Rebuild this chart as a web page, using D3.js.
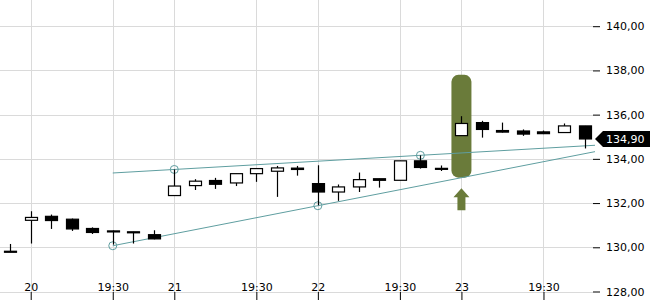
<!DOCTYPE html>
<html>
<head>
<meta charset="utf-8">
<script src="https://cdn.jsdelivr.net/npm/d3@7"></script>
<style>
  body { margin: 0; background: #fff; }
  svg { display: block; font-family: "DejaVu Sans", sans-serif; font-size: 11px; }
</style>
</head>
<body>
<svg class="chart" width="650" height="300"></svg>
<script>
// candle times (day + hour)
var times = ['19 21:30',
    '20 15:30', '20 16:30', '20 17:30', '20 18:30', '20 19:30', '20 20:30', '20 21:30',
    '21 15:30', '21 16:30', '21 17:30', '21 18:30', '21 19:30', '21 20:30', '21 21:30',
    '22 15:30', '22 16:30', '22 17:30', '22 18:30', '22 19:30', '22 20:30', '22 21:30',
    '23 15:30', '23 16:30', '23 17:30', '23 18:30', '23 19:30', '23 20:30', '23 21:30'];
var opens  = [129.82, 131.22, 131.40, 131.27, 130.85, 130.74, 130.70, 130.57,
    132.34, 132.79, 133.02, 132.91, 133.33, 133.44, 133.58,
    132.88, 132.50, 132.73, 133.10, 133.03, 133.91, 133.57,
    135.05, 135.64, 135.28, 135.26, 135.22, 135.19, 135.49];
var highs  = [130.15, 131.63, 131.48, 131.30, 130.90, 130.76, 130.70, 130.77,
    133.52, 133.08, 133.14, 133.33, 133.58, 133.68, 133.68,
    133.71, 132.84, 133.38, 133.10, 133.91, 134.16, 133.70,
    135.93, 135.72, 135.64, 135.33, 135.28, 135.60, 135.49];
var lows   = [129.78, 130.17, 130.83, 130.74, 130.60, 130.12, 130.17, 130.36,
    132.34, 132.59, 132.64, 132.77, 132.96, 132.28, 133.24,
    131.90, 132.10, 132.50, 132.70, 133.03, 133.56, 133.45,
    135.05, 134.96, 135.19, 135.04, 135.12, 135.19, 134.47];
var closes = [129.78, 131.35, 131.21, 130.83, 130.67, 130.70, 130.68, 130.38,
    132.77, 132.99, 132.85, 133.33, 133.56, 133.59, 133.52,
    132.50, 132.73, 133.06, 133.03, 133.91, 133.61, 133.55,
    135.60, 135.33, 135.21, 135.12, 135.14, 135.49, 134.90];

var tickTimes  = ['20 15:30', '20 19:30', '21 15:30', '21 19:30', '22 15:30', '22 19:30', '23 15:30', '23 19:30'];
var tickLabels = ['20', '19:30', '21', '19:30', '22', '19:30', '23', '19:30'];
var priceTicks = [128, 130, 132, 134, 136, 138, 140];

// trend lines: two anchor points each, start time
var upperTrend = [{t: '21 15:30', v: 133.52}, {t: '22 20:30', v: 134.16}];
var lowerTrend = [{t: '20 19:30', v: 130.07}, {t: '22 15:30', v: 131.88}];
var trendStart = '20 19:30';

// highlighted candle and signal arrow
var signalTime = '23 15:30';
var signalRange = [133.15, 137.8];
var arrowRange = [131.67, 132.67];

var lastPrice = 134.90;

(function show() {
    'use strict';

    var plotRight = 593, plotBottom = 292;
    var grid = '#dadada', teal = '#5f9ea0', olive = '#6a7b3a';
    var fmt = function(d) { return d.toFixed(2).replace('.', ','); };

    var chart = d3.select('.chart');

    var x = d3.scalePoint().domain(times).range([10.2, 584.5]);
    var y = d3.scaleLinear().domain([128, 140]).range([291.5, 26.2]);

    // grid
    chart.append('g').selectAll('line').data(priceTicks)
        .enter().append('line')
        .attr('x1', 0).attr('x2', plotRight)
        .attr('y1', function(d) { return Math.round(y(d)) + 0.5; })
        .attr('y2', function(d) { return Math.round(y(d)) + 0.5; })
        .attr('stroke', grid);
    chart.append('g').selectAll('line').data(tickTimes)
        .enter().append('line')
        .attr('x1', function(d) { return Math.round(x(d)) + 0.5; })
        .attr('x2', function(d) { return Math.round(x(d)) + 0.5; })
        .attr('y1', 0).attr('y2', plotBottom)
        .attr('stroke', grid);

    // right axis
    var rightAxis = chart.append('g')
        .attr('transform', 'translate(' + plotRight + ',0)')
        .call(d3.axisRight(y).tickValues(priceTicks).tickSize(7).tickPadding(6).tickFormat(fmt));
    rightAxis.select('.domain').remove();
    rightAxis.selectAll('text').attr('font-family', 'DejaVu Sans').attr('font-size', 11).attr('fill', '#000');

    // bottom axis, labels sit inside the plot
    var bottomAxis = chart.append('g')
        .attr('transform', 'translate(0,' + plotBottom + ')')
        .call(d3.axisBottom(x).tickValues(tickTimes).tickSize(8)
            .tickFormat(function(d, i) { return tickLabels[i]; }));
    bottomAxis.select('.domain').remove();
    bottomAxis.selectAll('text').attr('y', -1).attr('dy', 0)
        .attr('font-family', 'DejaVu Sans').attr('font-size', 11).attr('fill', '#000');

    // signal highlight
    var sx = x(signalTime);
    chart.append('rect')
        .attr('x', sx - 10).attr('width', 20)
        .attr('y', y(signalRange[1])).attr('height', y(signalRange[0]) - y(signalRange[1]))
        .attr('rx', 7).attr('fill', olive);
    var aTop = y(arrowRange[1]), aBot = y(arrowRange[0]), aMid = aTop + 9;
    chart.append('path')
        .attr('d', 'M' + sx + ',' + aTop + 'L' + (sx + 8) + ',' + aMid + 'L' + (sx + 4) + ',' + aMid +
            'L' + (sx + 4) + ',' + aBot + 'L' + (sx - 4) + ',' + aBot + 'L' + (sx - 4) + ',' + aMid +
            'L' + (sx - 8) + ',' + aMid + 'Z')
        .attr('fill', olive);

    // trend lines
    var endX = 595;
    [upperTrend, lowerTrend].forEach(function(tr) {
        var x1 = x(tr[0].t), y1 = y(tr[0].v), x2 = x(tr[1].t), y2 = y(tr[1].v);
        var slope = (y2 - y1) / (x2 - x1);
        var xs = x(trendStart);
        chart.append('line')
            .attr('x1', xs).attr('y1', y1 + slope * (xs - x1))
            .attr('x2', endX).attr('y2', y1 + slope * (endX - x1))
            .attr('stroke', teal).attr('stroke-width', 1);
        chart.append('g').selectAll('circle').data(tr)
            .enter().append('circle')
            .attr('cx', function(d) { return x(d.t); })
            .attr('cy', function(d) { return y(d.v); })
            .attr('r', 4).attr('fill', 'none').attr('stroke', teal);
    });

    // candles
    var candles = times.map(function(t, i) {
        return {t: t, o: opens[i], h: highs[i], l: lows[i], c: closes[i]};
    });
    var cg = chart.append('g').selectAll('g').data(candles)
        .enter().append('g');
    cg.append('line')
        .attr('x1', function(d) { return Math.round(x(d.t)) + 0.5; })
        .attr('x2', function(d) { return Math.round(x(d.t)) + 0.5; })
        .attr('y1', function(d) { return y(d.h); })
        .attr('y2', function(d) { return y(d.l); })
        .attr('stroke', '#000').attr('stroke-width', 1.2);
    cg.append('rect')
        .attr('x', function(d) { return Math.round(x(d.t)) - 5.5; })
        .attr('width', 12)
        .attr('y', function(d) { return y(Math.max(d.o, d.c)); })
        .attr('height', function(d) { return Math.max(1, y(Math.min(d.o, d.c)) - y(Math.max(d.o, d.c))); })
        .attr('fill', function(d) { return d.c >= d.o ? '#fff' : '#000'; })
        .attr('stroke', '#000').attr('stroke-width', 1.2);

    // last price tag
    var ly = y(lastPrice);
    chart.append('path')
        .attr('d', 'M595,' + ly + 'L603,' + (ly - 8) + 'L650,' + (ly - 8) + 'L650,' + (ly + 8) + 'L603,' + (ly + 8) + 'Z')
        .attr('fill', '#000');
    chart.append('text')
        .attr('x', 606).attr('y', ly).attr('dy', '0.35em')
        .attr('font-family', 'DejaVu Sans').attr('font-size', 11)
        .attr('fill', '#fff')
        .text(fmt(lastPrice));
})();
</script>
</body>
</html>
